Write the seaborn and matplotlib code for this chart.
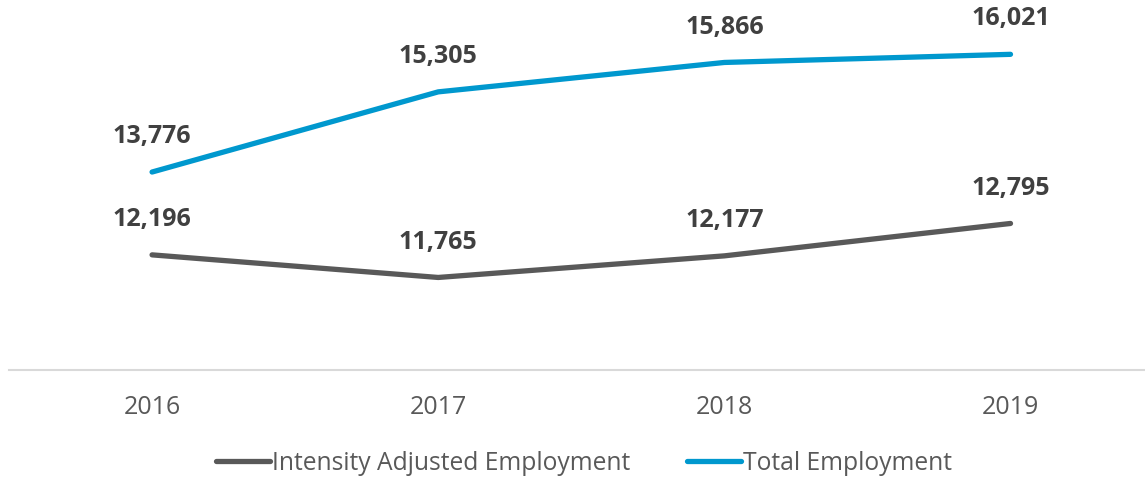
import matplotlib
matplotlib.use("Agg")
import matplotlib.pyplot as plt
import seaborn as sns
import pandas as pd

years = ["2016", "2017", "2018", "2019"]
intensity_adjusted = [12196, 11765, 12177, 12795]
total_employment = [13776, 15305, 15866, 16021]
series_names = ["Intensity Adjusted Employment", "Total Employment"]
series_colors = ["#595959", "#0098CE"]

df = pd.DataFrame({
    "year": years * 2,
    "value": intensity_adjusted + total_employment,
    "series": [series_names[0]] * 4 + [series_names[1]] * 4,
})
df["pos"] = df["year"].map({y: i for i, y in enumerate(years)})

sns.set_theme(style="white")
plt.rcParams["font.family"] = ["Open Sans", "DejaVu Sans"]

fig = plt.figure(figsize=(11.45, 4.78), dpi=100)
ax = fig.add_axes([9 / 1145, 1 - 370 / 478, 1145 / 1145 - 9 / 1145, 367 / 478])

sns.lineplot(data=df, x="pos", y="value", hue="series", hue_order=series_names,
             palette=series_colors, linewidth=3.8, ax=ax, legend=False,
             solid_capstyle="round")

for _, row in df.iterrows():
    ax.annotate(f"{row['value']:,}", (row["pos"], row["value"]),
                xytext=(0, 25.5), textcoords="offset points",
                ha="center", va="center", fontsize=18, fontweight="bold",
                color="#404040")

ax.set_xlim(-0.5, 3.47)
ax.set_ylim(10000, 17000)
ax.set_xticks(range(len(years)))
ax.set_xticklabels(years, fontsize=18, color="#595959")
ax.tick_params(axis="x", length=0, pad=18)
ax.set_yticks([])
ax.set_xlabel("")
ax.set_ylabel("")
for side in ["top", "left", "right"]:
    ax.spines[side].set_visible(False)
ax.spines["bottom"].set_color("#D9D9D9")
ax.spines["bottom"].set_linewidth(1.5)

handles = [plt.Line2D([0], [0], color=c, linewidth=3.8, solid_capstyle="round")
           for c in series_colors]
fig.legend(handles, series_names, loc="center", bbox_to_anchor=(584 / 1145, 1 - 463 / 478),
           ncol=2, frameon=False, fontsize=17.7, labelcolor="#595959",
           handlelength=2.2, handletextpad=0.1, columnspacing=2.3)

fig.savefig("out.png", dpi=100, facecolor="white")
